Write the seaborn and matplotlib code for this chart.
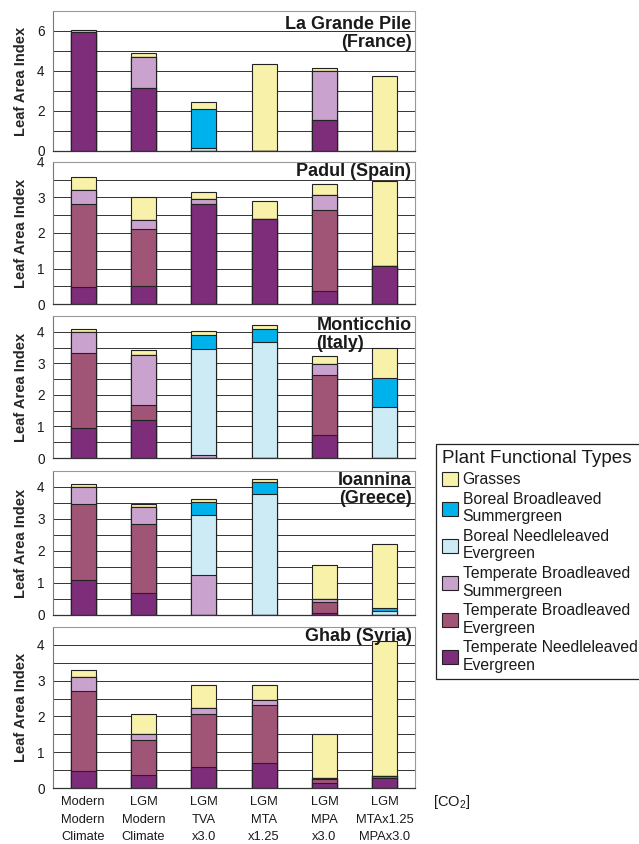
import numpy as np
import matplotlib.pyplot as plt
import seaborn as sns
from matplotlib.patches import Patch
from matplotlib.ticker import MultipleLocator

scenarios = ["Modern\nModern\nClimate", "LGM\nModern\nClimate", "LGM\nTVA\nx3.0",
             "LGM\nMTA\nx1.25", "LGM\nMPA\nx3.0", "LGM\nMTAx1.25\nMPAx3.0"]
sites = ["La Grande Pile\n(France)", "Padul (Spain)", "Monticchio\n(Italy)",
         "Ioannina\n(Greece)", "Ghab (Syria)"]

# plant functional types, bottom of the stack first
pft_names = ["Temperate Needleleaved\nEvergreen", "Temperate Broadleaved\nEvergreen",
             "Temperate Broadleaved\nSummergreen", "Boreal Needleleaved\nEvergreen",
             "Boreal Broadleaved\nSummergreen", "Grasses"]
pft_colors = ["#7d2d7a", "#a05476", "#c9a3cd", "#cdebf5", "#00b2eb", "#f7f1a9"]

# leaf area index per PFT (rows as in pft_names), per scenario (columns)
grande_pile = [[5.93, 3.13, 0.00, 0.00, 1.55, 0.00],
               [0.00, 0.00, 0.00, 0.00, 0.00, 0.00],
               [0.00, 1.59, 0.00, 0.00, 2.45, 0.00],
               [0.00, 0.00, 0.13, 0.00, 0.00, 0.00],
               [0.00, 0.00, 1.97, 0.00, 0.00, 0.00],
               [0.12, 0.16, 0.37, 4.35, 0.13, 3.77]]
padul = [[0.47, 0.51, 2.82, 2.40, 0.37, 1.08],
         [2.34, 1.60, 0.00, 0.00, 2.27, 0.00],
         [0.40, 0.25, 0.14, 0.00, 0.43, 0.00],
         [0.00, 0.00, 0.00, 0.00, 0.00, 0.00],
         [0.00, 0.00, 0.00, 0.00, 0.00, 0.00],
         [0.36, 0.64, 0.19, 0.50, 0.32, 2.39]]
monticchio = [[0.95, 1.21, 0.00, 0.00, 0.74, 0.00],
              [2.39, 0.46, 0.00, 0.00, 1.88, 0.00],
              [0.65, 1.58, 0.08, 0.00, 0.36, 0.00],
              [0.00, 0.00, 3.39, 3.69, 0.00, 1.63],
              [0.00, 0.00, 0.42, 0.41, 0.00, 0.90],
              [0.11, 0.17, 0.14, 0.12, 0.24, 0.96]]
ioannina = [[1.10, 0.68, 0.00, 0.00, 0.06, 0.00],
            [2.37, 2.15, 0.00, 0.00, 0.34, 0.00],
            [0.53, 0.53, 1.25, 0.00, 0.09, 0.00],
            [0.00, 0.00, 1.86, 3.77, 0.00, 0.11],
            [0.00, 0.00, 0.42, 0.38, 0.00, 0.10],
            [0.10, 0.12, 0.10, 0.11, 1.06, 2.01]]
ghab = [[0.48, 0.35, 0.58, 0.70, 0.14, 0.28],
        [2.24, 1.00, 1.49, 1.63, 0.11, 0.06],
        [0.37, 0.17, 0.16, 0.12, 0.03, 0.00],
        [0.00, 0.00, 0.00, 0.00, 0.00, 0.00],
        [0.00, 0.00, 0.00, 0.00, 0.00, 0.00],
        [0.21, 0.55, 0.65, 0.43, 1.23, 3.77]]

site_data = [grande_pile, padul, monticchio, ioannina, ghab]
y_max = [7, 4, 4.5, 4.5, 4.5]
y_major = [2, 1, 1, 1, 1]
y_minor = [1, 0.5, 0.5, 0.5, 0.5]

sns.set_style("white")
plt.rcParams['font.family'] = ['Liberation Sans', 'DejaVu Sans']
plt.rcParams['mathtext.fontset'] = 'custom'
plt.rcParams['mathtext.rm'] = 'Liberation Sans'
plt.rcParams['text.color'] = '#1a1a1a'
plt.rcParams['xtick.labelcolor'] = '#1a1a1a'
plt.rcParams['ytick.labelcolor'] = '#1a1a1a'

fig = plt.figure(figsize=(6.39, 8.44), dpi=100)

# panel boxes in pixels (top, bottom)
boxes = [(11, 151), (162, 304), (316, 458), (471, 615), (627, 788)]
W, H = 639, 844
left, right = 53, 415

for i, (site, data) in enumerate(zip(sites, site_data)):
    top, bot = boxes[i]
    ax = fig.add_axes([left / W, 1 - bot / H, (right - left) / W, (bot - top) / H])
    cum = np.cumsum(np.array(data), axis=0)
    # overlay cumulative bars, highest first, to get a stacked look
    for k in reversed(range(len(pft_names))):
        sns.barplot(x=scenarios, y=cum[k], order=scenarios, color=pft_colors[k],
                    saturation=1, width=0.41, edgecolor='#222222', linewidth=0.8,
                    errorbar=None, ax=ax)

    ax.set_xlim(-0.5, 5.5)
    ax.set_ylim(0, y_max[i])
    ax.yaxis.set_major_locator(MultipleLocator(y_major[i]))
    ax.yaxis.set_minor_locator(MultipleLocator(y_minor[i]))
    ax.set_axisbelow(True)
    ax.grid(True, axis='y', which='both', color='#333333', linewidth=0.7)
    ax.grid(False, axis='x')

    ax.set_xticks(range(len(scenarios)))
    ax.set_xticks(np.arange(-0.5, 6.0, 1.0), minor=True)
    ax.tick_params(axis='x', which='major', length=0, pad=6, labelsize=9.3)
    ax.tick_params(axis='x', which='minor', length=4, width=0.8, color='#444444', direction='out')
    ax.tick_params(axis='y', which='major', length=3, width=0.8, color='#666666',
                   direction='out', labelsize=9.8, pad=3)
    ax.tick_params(axis='y', which='minor', length=0)
    if i < len(sites) - 1:
        ax.set_xticklabels([])
    else:
        ax.set_xticklabels(scenarios)
        plt.setp(ax.get_xticklabels(), linespacing=1.6)

    for s in ['top', 'right']:
        ax.spines[s].set_color('#999999')
        ax.spines[s].set_linewidth(0.8)
    ax.spines['left'].set_color('#777777')
    ax.spines['bottom'].set_color('#333333')
    ax.spines['left'].set_linewidth(0.8)
    ax.spines['bottom'].set_linewidth(0.9)

    ax.set_xlabel('')
    ax.set_ylabel('Leaf Area Index', fontsize=10.5, fontweight='bold')
    ax.yaxis.set_label_coords(-25 / (right - left), 0.5)

    align = 'left' if i == 2 else 'right'
    ty = 0.965 if i == 0 else 0.995
    ax.text(0.99, ty, site, transform=ax.transAxes, ha='right', va='top',
            multialignment=align, fontsize=13, fontweight='bold', linespacing=1.1)

fig.text(433 / W, 1 - 802 / H, '[CO$_2$]', fontsize=10.5, va='center', ha='left')

handles = [Patch(facecolor=pft_colors[k], edgecolor='#222222', linewidth=0.8)
           for k in reversed(range(len(pft_names)))]
labels = [pft_names[k] for k in reversed(range(len(pft_names)))]
leg = fig.legend(handles, labels, title='Plant Functional Types', loc='upper left',
                 bbox_to_anchor=(428 / W, 1 - 436 / H), fontsize=11.3, title_fontsize=13.6,
                 frameon=True, fancybox=False, edgecolor='#222222', framealpha=1,
                 handlelength=1.0, handleheight=1.0, handletextpad=0.3,
                 labelspacing=0.3, borderpad=0.4, alignment='left')
leg.get_frame().set_linewidth(0.9)

fig.savefig('out.png', dpi=100)
